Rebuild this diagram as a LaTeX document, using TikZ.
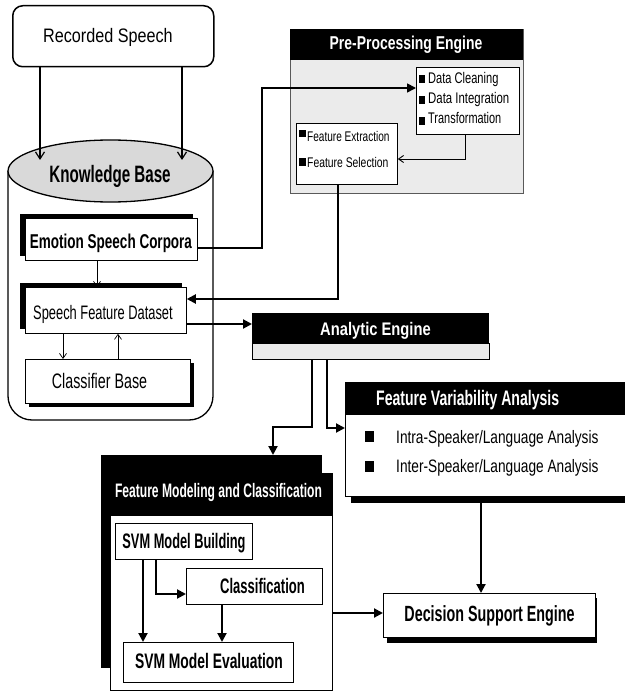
\documentclass[tikz,border=0pt]{standalone}
\usepackage{graphicx}
\usepackage{fontspec}
\setmainfont{Liberation Sans}
\usetikzlibrary{arrows.meta,shapes.geometric}
\newcommand\ttx[3]{{\fontsize{#1}{#1}\selectfont\scalebox{#2}[1]{#3}}}
\definecolor{lgray}{HTML}{EBEBEB}
\definecolor{egray}{HTML}{D9D9D9}
\begin{document}
\begin{tikzpicture}[x=1pt,y=-1pt,
  lbl/.style={inner sep=0pt, anchor=base},
  lblw/.style={inner sep=0pt, anchor=base west},
  wlbl/.style={inner sep=0pt, anchor=base, text=white},
  thinarr/.style={line width=1.2pt, -{Straight Barb[length=7pt,width=9pt]}},
  smallarr/.style={line width=0.7pt, -{Straight Barb[length=5pt,width=7pt]}},
  thickarr/.style={line width=2pt, -{Triangle[length=9pt,width=9pt]}},
  medarr/.style={line width=1.7pt, -{Triangle[length=9pt,width=9pt]}},
  box/.style={draw, line width=0.8pt, fill=white, inner sep=0pt, anchor=north west},
  shadowbox/.style={fill=black, inner sep=0pt, anchor=north west},
  bul/.style={fill=black, inner sep=0pt, anchor=north west},
 ]
\useasboundingbox (0,0) rectangle (624,692);

% Recorded speech
\node[box, rounded corners=10pt, line width=1.5pt, minimum width=201pt, minimum height=61pt] (rs) at (12,5) {};
\node[lbl] (rst) at (108,43) {\ttx{19.5}{0.83}{Recorded Speech}};

% Knowledge base cylinder
\draw[line width=1.3pt, fill=white, rounded corners=24pt] (8,171) -- (8,420) -- (213,420) -- (213,171);
\node[draw, line width=1.3pt, fill=egray, ellipse, minimum width=205pt, minimum height=62pt, inner sep=0pt] (kb) at (110.5,171) {};
\node[lbl] (kbt) at (110,183) {\bfseries\ttx{23.7}{0.64}{Knowledge Base}};
\draw[thinarr] (rs.south -| 40,0) -- (40,160);
\draw[thinarr] (rs.south -| 182,0) -- (182,160);

% Emotion speech corpora
\node[shadowbox, minimum width=173pt, minimum height=42pt] (escs) at (20,214) {};
\node[box, minimum width=172pt, minimum height=42pt] (esc) at (25,218) {};
\node[lbl] (esct) at (111,248) {\bfseries\ttx{20}{0.675}{Emotion Speech Corpora}};

% Speech feature dataset
\node[shadowbox, minimum width=162pt, minimum height=46pt] (sfds) at (20,283) {};
\node[box, minimum width=161pt, minimum height=46pt] (sfd) at (25,287) {};
\node[lbl] (sfdt) at (103,319) {\ttx{19.5}{0.66}{Speech Feature Dataset}};

% Classifier base
\node[shadowbox, minimum width=165pt, minimum height=44pt] (cbs) at (29,363) {};
\node[box, line width=1.2pt, minimum width=165pt, minimum height=44pt] (cb) at (25,359) {};
\node[lbl] (cbt) at (99.5,388) {\ttx{21}{0.68}{Classifier Base}};

\draw[smallarr] (esc.south -| 97,0) -- (sfd.north -| 97,0);
\draw[smallarr] (sfd.south -| 63,0) -- (cb.north -| 63,0);
\draw[smallarr] (cb.north -| 118,0) -- (sfd.south -| 118,0);

% Pre-processing engine
\node[anchor=north west, draw=gray!70!black, line width=1pt, fill=lgray, minimum width=233pt, minimum height=164pt, inner sep=0pt] (ppe) at (290,29) {};
\fill (290,29) rectangle (523,60);
\node[wlbl] (ppet) at (406,50) {\bfseries\ttx{18.6}{0.75}{Pre-Processing Engine}};

\node[box, minimum width=103pt, minimum height=67pt] (dat) at (416,67) {};
\node[bul, minimum width=6pt, minimum height=8pt] (b1) at (419,75) {};
\node[lblw] (d1) at (428,84) {\ttx{15.4}{0.72}{Data Cleaning}};
\node[bul, minimum width=6pt, minimum height=8pt] (b2) at (419,96) {};
\node[lblw] (d2) at (428,103.5) {\ttx{15.4}{0.74}{Data Integration}};
\node[bul, minimum width=6pt, minimum height=8pt] (b3) at (419,117) {};
\node[lblw] (d3) at (428,124) {\ttx{15.4}{0.71}{Transformation}};

\node[box, minimum width=101pt, minimum height=61pt] (fea) at (296,123) {};
\node[bul, minimum width=7pt, minimum height=7pt] (b4) at (299,130) {};
\node[lblw] (f1) at (307,142) {\ttx{14}{0.72}{Feature Extraction}};
\node[bul, minimum width=7pt, minimum height=8pt] (b5) at (299,158) {};
\node[lblw] (f2) at (307,168) {\ttx{14}{0.74}{Feature Selection}};

\draw[medarr] (esc.east |- 0,248) -- (262,248) -- (262,88) -- (dat.west |- 0,88);
\draw[smallarr, line width=0.9pt] (dat.south -| 465,0) -- (465,159) -- (fea.east |- 0,159);

% Analytic engine
\node[anchor=north west, inner sep=0pt, minimum width=237pt, minimum height=46pt] (ae) at (252,313) {};
\fill (252,313) rectangle (489,343);
\draw[line width=0.8pt, fill=lgray] (252,343) rectangle (489,359);
\node[wlbl] (aet) at (375.5,335) {\bfseries\ttx{18.2}{0.81}{Analytic Engine}};

\draw[thickarr] (fea.south -| 338,0) -- (338,299) -- (sfd.east |- 0,299);
\draw[thickarr] (sfd.east |- 0,324) -- (ae.west |- 0,324);

% Feature variability analysis
\node[shadowbox, minimum width=280pt, minimum height=116pt] (fvas) at (351,387) {};
\node[box, minimum width=285pt, minimum height=114pt] (fva) at (345,382) {};
\fill (345,382) rectangle (630,415);
\node[inner sep=0pt, anchor=base west, text=white] (fvat) at (376,405) {\bfseries\ttx{21}{0.67}{Feature Variability Analysis}};
\node[bul, minimum width=9pt, minimum height=11pt] (b6) at (365,431) {};
\node[lblw] (v1) at (396,443) {\ttx{18}{0.76}{Intra-Speaker/Language Analysis}};
\node[bul, minimum width=9pt, minimum height=11pt] (b7) at (365,461) {};
\node[lblw] (v2) at (396,472) {\ttx{18}{0.76}{Inter-Speaker/Language Analysis}};

\draw[thickarr] (ae.south -| 327,0) -- (327,428) -- (fva.west |- 0,428);

% Feature modeling and classification
\node[shadowbox, minimum width=221pt, minimum height=213pt] (fmcs) at (101,455) {};
\node[box, minimum width=222pt, minimum height=217pt] (fmc) at (110,473) {};
\fill (110,473) rectangle (332,516);
\node[wlbl] (fmct) at (218.5,497) {\bfseries\ttx{19.5}{0.62}{Feature Modeling and Classification}};

\draw[thickarr] (ae.south -| 312,0) -- (312,427) -- (273,427) -- (fmcs.north -| 273,0);

\node[box, minimum width=137pt, minimum height=36pt] (mb) at (115,523) {};
\node[lbl] (mbt) at (184,548) {\bfseries\ttx{21}{0.61}{SVM Model Building}};
\node[box, minimum width=136pt, minimum height=36pt] (cl) at (186,568) {};
\node[lbl] (clt) at (262.5,593) {\bfseries\ttx{21}{0.62}{Classification}};
\node[box, minimum width=170pt, minimum height=40pt] (me) at (123,642) {};
\node[lbl] (met) at (209,668) {\bfseries\ttx{21}{0.66}{SVM Model Evaluation}};

\draw[thickarr] (mb.south -| 143,0) -- (me.north -| 143,0);
\draw[thickarr] (mb.south -| 156,0) -- (156,594) -- (cl.west |- 0,594);
\draw[thickarr] (cl.south -| 222,0) -- (me.north -| 222,0);

% Decision support engine
\node[shadowbox, minimum width=210pt, minimum height=45pt] (dses) at (387,598) {};
\node[box, minimum width=212pt, minimum height=44pt] (dse) at (383,593) {};
\node[lbl] (dset) at (489.5,621) {\bfseries\ttx{22}{0.65}{Decision Support Engine}};

\draw[thickarr] (fmc.east |- 0,613) -- (dse.west |- 0,613);
\draw[thickarr] (fvas.south -| 481,0) -- (dse.north -| 481,0);
\end{tikzpicture}
\end{document}
